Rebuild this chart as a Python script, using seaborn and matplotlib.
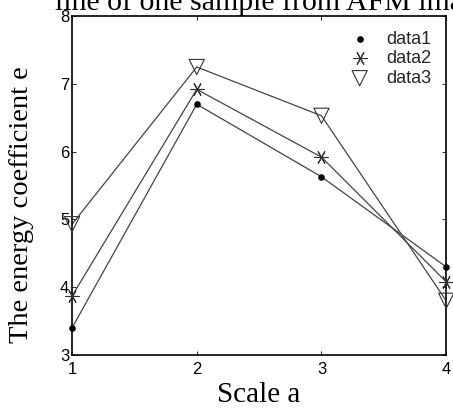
import matplotlib
matplotlib.use("Agg")
import matplotlib.pyplot as plt
import seaborn as sns
import pandas as pd

scales = [1, 2, 3, 4]
data1 = [3.40, 6.70, 5.63, 4.30]
data2 = [3.87, 6.92, 5.92, 4.08]
data3 = [4.93, 7.25, 6.53, 3.80]
labels = ["data1", "data2", "data3"]
xticks = [1, 2, 3, 4]
yticks = [3, 4, 5, 6, 7, 8]

sns.set_theme(style="white")
plt.rcParams['font.family'] = ['Liberation Sans', 'DejaVu Sans']

fig = plt.figure(figsize=(4.53, 4.15), dpi=100)
ax = fig.add_axes([0.159, 0.1446, 0.826, 0.8164])

rows = []
for lab, vals in zip(labels, [data1, data2, data3]):
    for x, y in zip(scales, vals):
        rows.append({"scale": x, "value": y, "series": lab})
df = pd.DataFrame(rows)

sns.lineplot(data=df, x="scale", y="value", units="series", estimator=None,
             color="#444444", lw=0.9, ax=ax, legend=False)

styles = {
    "data1": dict(marker="o", s=14, c="black"),
    "data2": dict(marker=(6, 2, 90), s=90, c="#333333", linewidths=0.8),
    "data3": dict(marker="v", s=120, facecolors="none", edgecolors="#333333", linewidths=0.8),
}
for lab in labels:
    sub = df[df.series == lab]
    st = styles[lab]
    ax.scatter(sub.scale, sub.value, label=lab, zorder=3, clip_on=False, **st)

ax.set_xlim(1, 4)
ax.set_ylim(3, 8)
ax.set_xticks(xticks)
ax.set_yticks(yticks)
ax.tick_params(direction="in", length=3, width=0.6, colors="black",
               top=True, right=True, bottom=True, left=True, labelsize=12)
ax.tick_params(axis="x", pad=5)
ax.tick_params(axis="y", pad=2)
for s in ax.spines.values():
    s.set_color("black")
    s.set_linewidth(1.2)

ax.set_xlabel("Scale a", family="Liberation Serif", fontsize=21, color="black")
ax.xaxis.set_label_coords(0.5, -0.08, transform=ax.transAxes)
ax.xaxis.label.set_va("top")
ax.set_ylabel("The energy coefficient e", family="Liberation Serif", fontsize=20.5, color="black")
ax.yaxis.set_label_coords(22 / 453, 1 - 205 / 415, transform=fig.transFigure)
ax.yaxis.label.set_va("center")

leg = ax.legend(loc="upper right", frameon=False, fontsize=13, handletextpad=0.5,
                labelspacing=0.15, borderaxespad=0.0, scatterpoints=1,
                bbox_to_anchor=(0.981, 0.979))

fig.text(55 / 453, 1 - 9.5 / 415, "line of one sample from AFM image", family="Liberation Serif",
         fontsize=21.5, color="black", va="baseline", ha="left")

fig.savefig("out.png", dpi=100)
